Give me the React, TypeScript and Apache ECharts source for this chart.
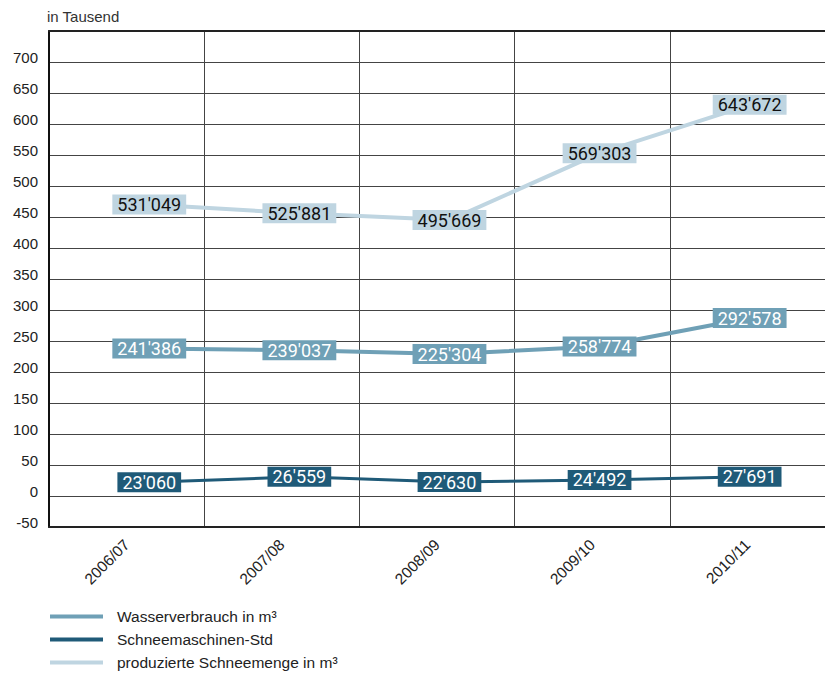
import React, { useEffect, useRef } from "react";
import * as echarts from "echarts";

const categories = ["2006/07", "2007/08", "2008/09", "2009/10", "2010/11"];

// printed values (labels)
const wasserLabels = [241386, 239037, 225304, 258774, 292578];
const maschinenLabels = [23060, 26559, 22630, 24492, 27691];
const schneeLabels = [531049, 525881, 495669, 569303, 643672];

// plotted positions (in Tausend)
const wasserPlot = [238, 235, 229, 241, 287];
const maschinenPlot = [22, 31, 22.5, 26, 31];
const schneePlot = [470, 456, 445, 553, 631];

const seriesNames = [
  "Wasserverbrauch in m³",
  "Schneemaschinen-Std",
  "produzierte Schneemenge in m³",
];

const colors = ["#6fa0b6", "#1f5a78", "#bfd5e1"];

const fmt = (n: number) =>
  String(n).replace(/\B(?=(\d{3})+(?!\d))/g, "'");

export default function App() {
  const ref = useRef<HTMLDivElement>(null);
  useEffect(() => {
    if (!ref.current) return;
    const chart = echarts.init(ref.current, undefined, { renderer: "svg" });
    const mk = (
      name: string,
      plot: number[],
      labels: number[],
      color: string,
      textColor: string,
      width: number
    ) => ({
      name,
      type: "line",
      xAxisIndex: 1,
      data: plot.map((v, i) => [i, v]),
      symbol: "circle",
      symbolSize: 1,
      itemStyle: { color },
      lineStyle: { color, width },
      label: {
        show: true,
        position: "inside",
        formatter: (p: any) => fmt(labels[p.dataIndex]),
        fontFamily: "Roboto",
        fontSize: 18,
        color: textColor,
        backgroundColor: color,
        padding: [1, 5, 0, 5],
        lineHeight: 19,
      },
    });
    chart.setOption({
      animation: false,
      grid: { left: 49, right: 0, top: 31, bottom: 148, containLabel: false },
      xAxis: [
        {
          type: "category",
          data: categories,
          boundaryGap: true,
          position: "bottom",
          axisLine: { show: true, onZero: false, lineStyle: { color: "#222", width: 2 } },
          axisTick: { show: false },
          axisLabel: {
            rotate: 45,
            margin: 15,
            fontSize: 15.5,
            color: "#222",
            fontFamily: "Liberation Sans",
            interval: 0,
          },
          splitLine: {
            show: true,
            interval: 0,
            lineStyle: { color: "#444", width: 1 },
          },
        },
        {
          type: "value",
          min: -0.668,
          max: 4.502,
          position: "top",
          axisLine: { show: true, onZero: false, lineStyle: { color: "#222", width: 2 } },
          axisTick: { show: false },
          axisLabel: { show: false },
          splitLine: { show: false },
        },
      ],
      yAxis: {
        type: "value",
        min: -50,
        max: 750,
        interval: 50,
        name: "in Tausend",
        nameLocation: "end",
        nameGap: 7,
        nameTextStyle: {
          align: "left",
          fontSize: 15,
          color: "#333",
          fontFamily: "Liberation Sans",
          padding: [0, 0, 0, -2],
        },
        axisLine: { show: true, onZero: false, lineStyle: { color: "#111", width: 2 } },
        axisTick: { show: false },
        axisLabel: {
          margin: 11,
          fontSize: 15,
          color: "#222",
          fontFamily: "Liberation Sans",
          formatter: (v: number) => (v > 700 ? "" : "{a|" + v + "}"),
          rich: {
            a: {
              fontSize: 15,
              color: "#222",
              fontFamily: "Liberation Sans",
              padding: [0, 0, 10, 0],
            },
          },
        },
        splitLine: { show: true, lineStyle: { color: "#444", width: 1 } },
      },
      legend: {
        data: seriesNames,
        orient: "vertical",
        left: 50,
        top: 608,
        padding: 0,
        height: 80,
        icon: "rect",
        itemWidth: 53,
        itemHeight: 4,
        itemGap: 6,
        formatter: (n: string) => "{a|" + n + "}",
        textStyle: {
          fontSize: 15.5,
          color: "#222",
          fontFamily: "Liberation Sans",
          lineHeight: 17,
          rich: {
            a: {
              fontSize: 15.5,
              color: "#222",
              fontFamily: "Liberation Sans",
              lineHeight: 17,
              padding: [0, 0, 0, 9],
            },
          },
        },
      },
      series: [
        mk(seriesNames[0], wasserPlot, wasserLabels, colors[0], "#fff", 4),
        mk(seriesNames[1], maschinenPlot, maschinenLabels, colors[1], "#fff", 3),
        mk(seriesNames[2], schneePlot, schneeLabels, colors[2], "#111", 4),
      ],
    });
    return () => chart.dispose();
  }, []);
  return (
    <div
      ref={ref}
      style={{
        position: "fixed",
        left: 0,
        top: 0,
        width: 825,
        height: 675,
        background: "#fff",
      }}
    />
  );
}
